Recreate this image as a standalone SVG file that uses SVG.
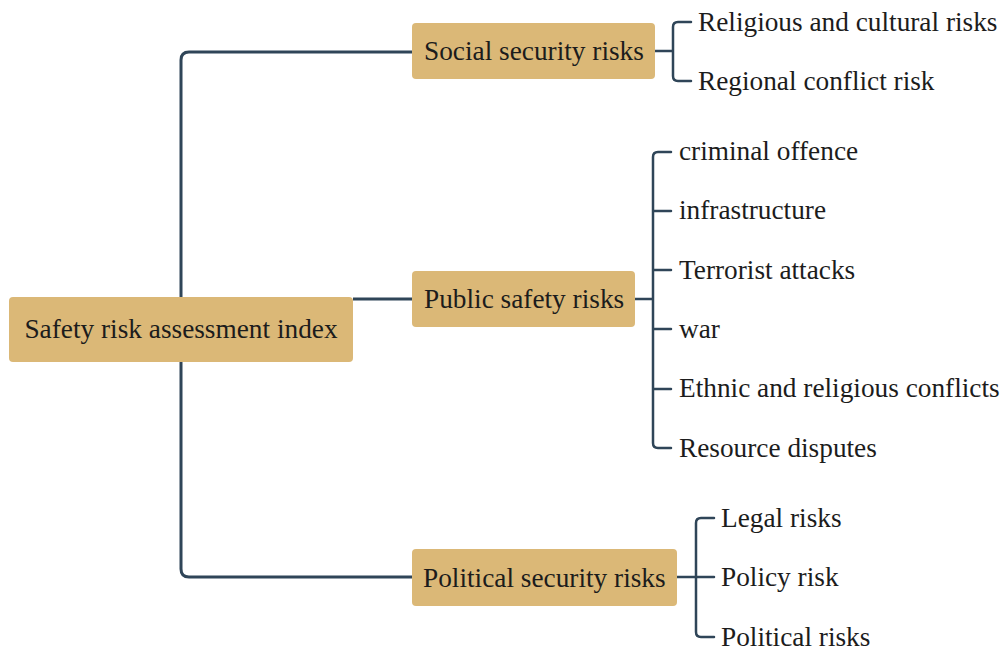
<svg xmlns="http://www.w3.org/2000/svg" width="1003" height="651" viewBox="0 0 1003 651">
<style>
.box{fill:#dbb877;}
.t{font-family:"Liberation Serif","Times New Roman",serif;font-size:27.3px;fill:#1c1c1c;}
.c{fill:none;stroke:#2f4558;stroke-width:2.5;stroke-linecap:round;stroke-linejoin:round;}
.m{fill:none;stroke:#2f4558;stroke-width:3;}
</style>
<rect width="1003" height="651" fill="#ffffff"/>
<g id="connectors">
<path class="m" d="M181 297 V60 Q181 52 189 52 H412"/>
<path class="m" d="M181 362 V569 Q181 577 189 577 H412"/>
<path class="m" d="M353 299 H412"/>
<path class="c" d="M655 51 H673 M691 22 H678 Q673 22 673 27 V76 Q673 81 678 81 H691"/>
<path class="c" d="M635 299 H653 M671 152 H658 Q653 152 653 157 V443 Q653 448 658 448 H671 M653 211 H671 M653 270 H671 M653 329 H671 M653 389 H671"/>
<path class="c" d="M677 577 H696 M714 518 H701 Q696 518 696 523 V632 Q696 637 701 637 H714 M696 577 H714"/>
</g>
<g id="root">
<rect class="box" x="9" y="297" width="344" height="65" rx="4"/>
<text class="t" x="181" y="338" text-anchor="middle">Safety risk assessment index</text>
</g>
<g id="social">
<rect class="box" x="412" y="23" width="243" height="56" rx="4"/>
<text class="t" x="424" y="60">Social security risks</text>
</g>
<g id="public">
<rect class="box" x="412" y="271" width="223" height="56" rx="4"/>
<text class="t" x="424" y="308">Public safety risks</text>
</g>
<g id="political">
<rect class="box" x="412" y="549" width="265" height="57" rx="4"/>
<text class="t" x="423" y="587">Political security risks</text>
</g>
<g id="social-children">
<text class="t" x="698" y="31">Religious and cultural risks</text>
<text class="t" x="698" y="90">Regional conflict risk</text>
</g>
<g id="public-children">
<text class="t" x="679" y="160">criminal offence</text>
<text class="t" x="679" y="219">infrastructure</text>
<text class="t" x="679" y="279">Terrorist attacks</text>
<text class="t" x="679" y="338">war</text>
<text class="t" x="679" y="397">Ethnic and religious conflicts</text>
<text class="t" x="679" y="457">Resource disputes</text>
</g>
<g id="political-children">
<text class="t" x="721" y="527">Legal risks</text>
<text class="t" x="721" y="586">Policy risk</text>
<text class="t" x="721" y="646">Political risks</text>
</g>
</svg>
